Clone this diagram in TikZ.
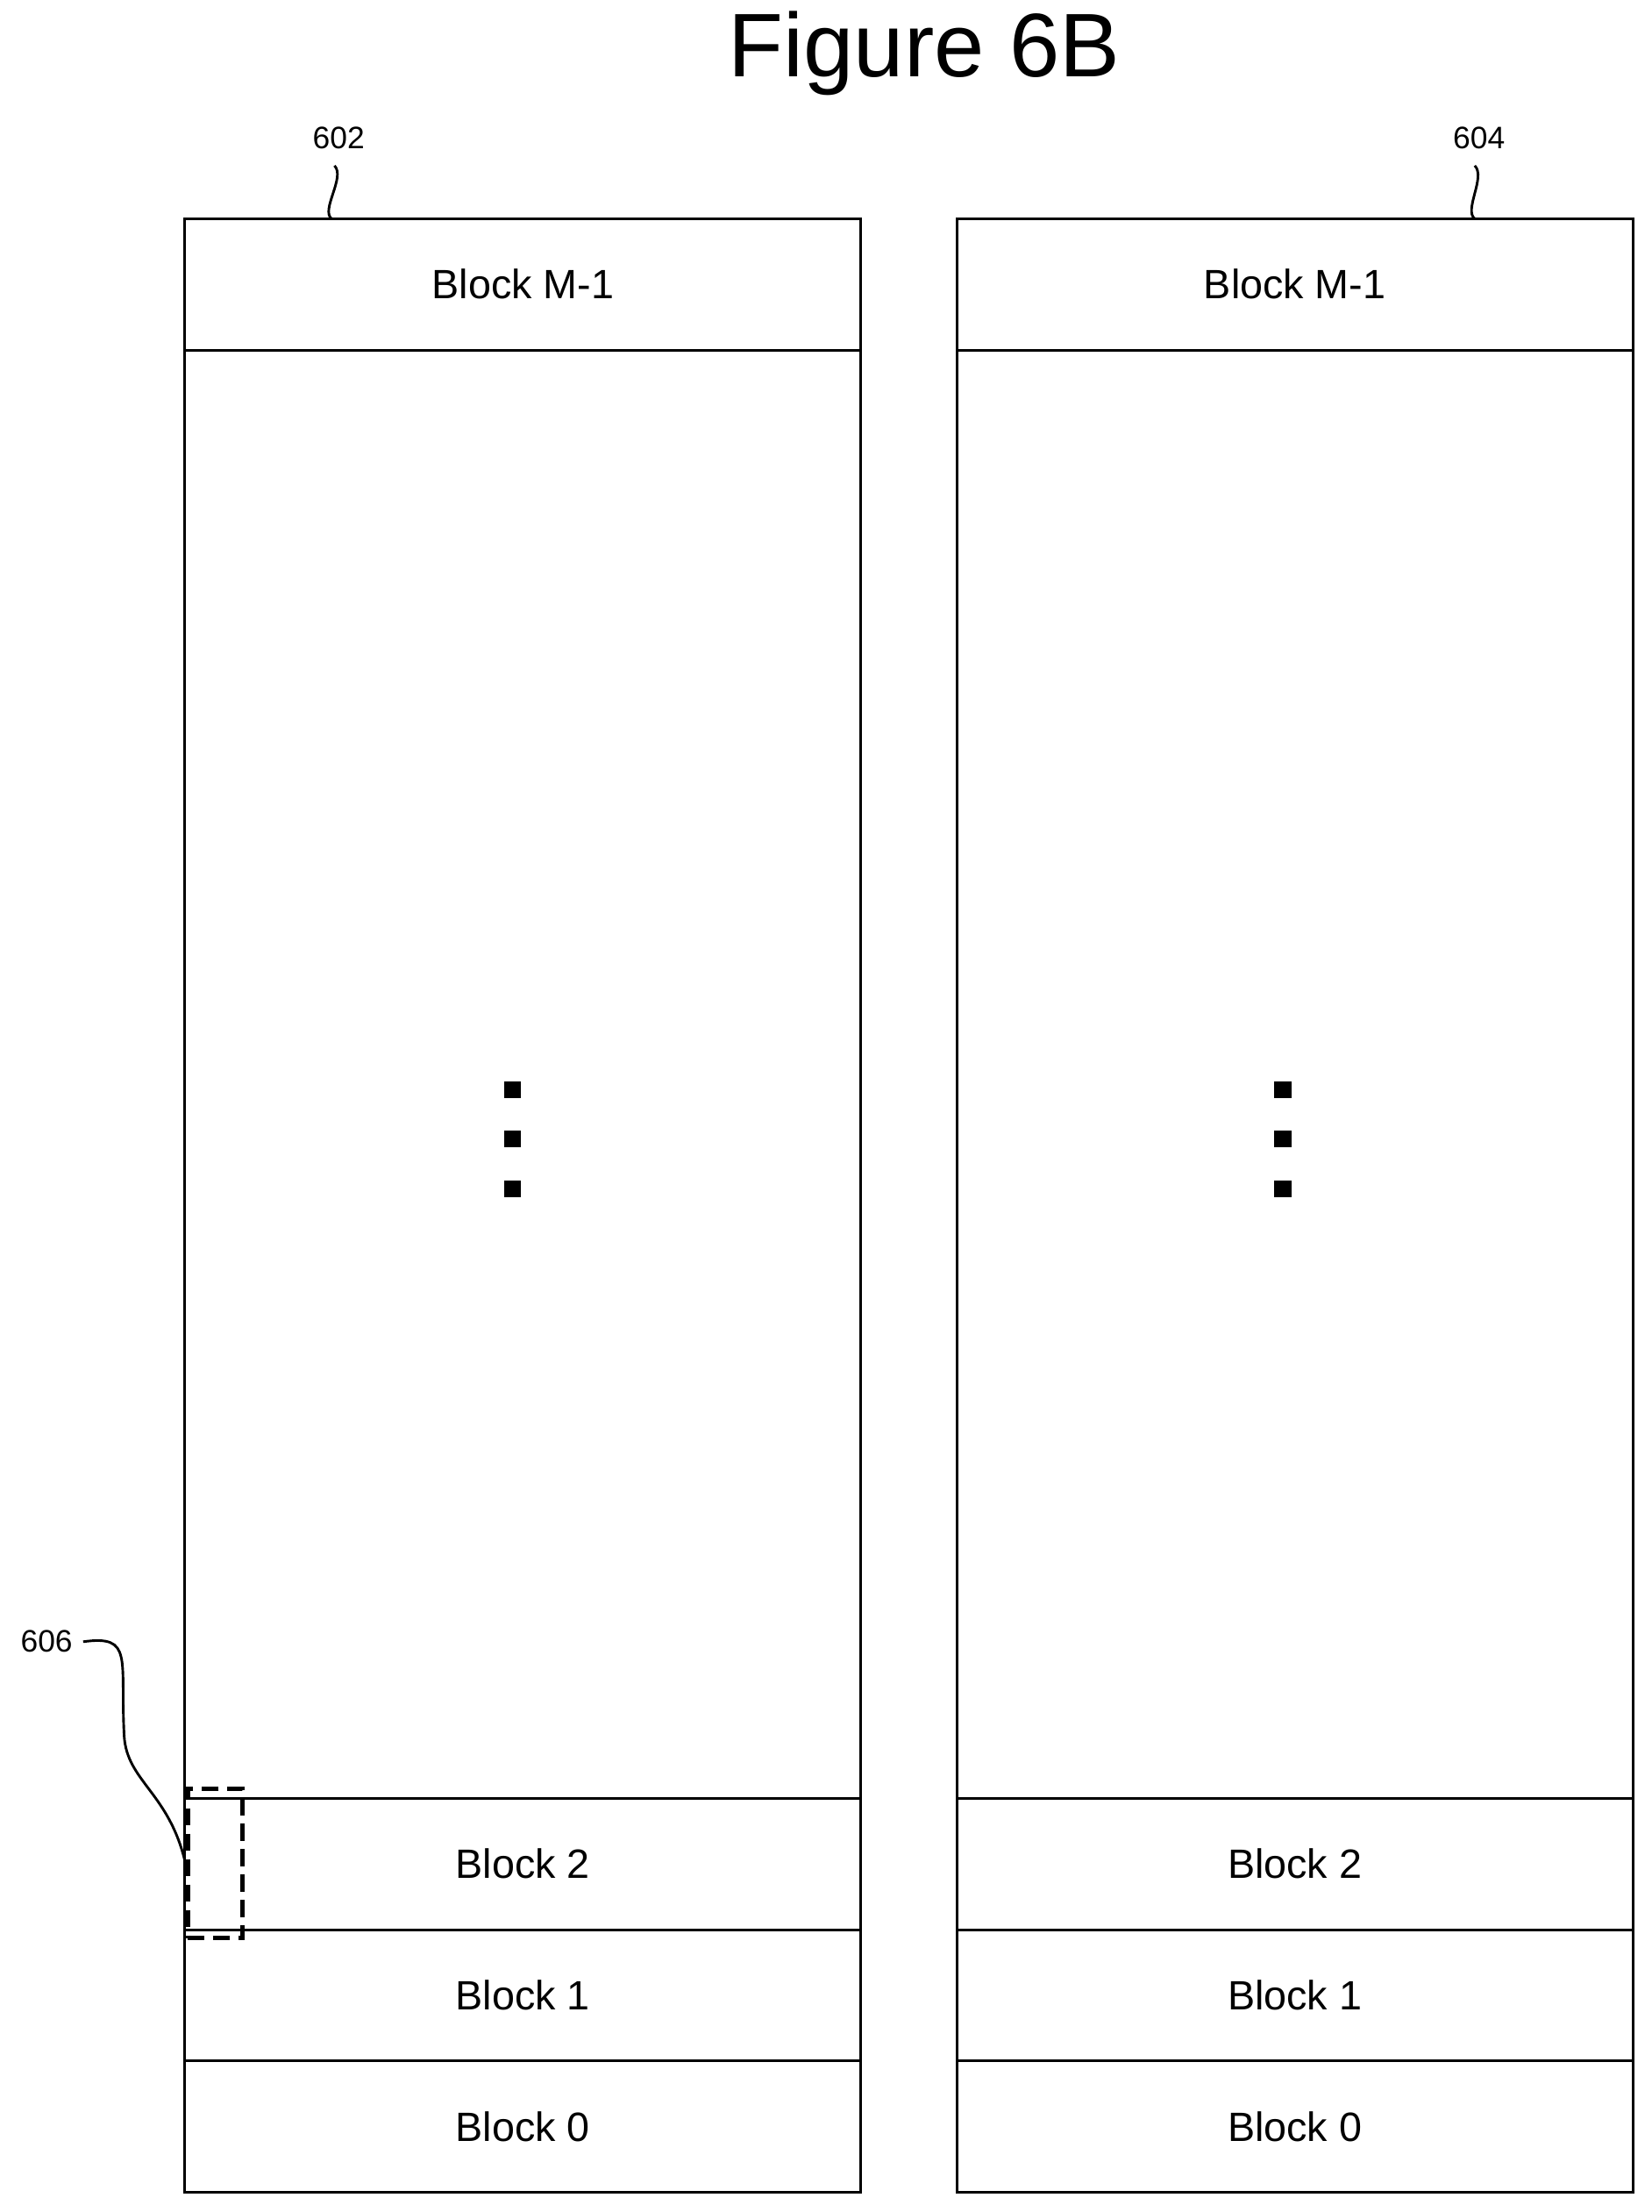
\documentclass[tikz,border=0pt]{standalone}
\usepackage{fontspec}
\setmainfont{Liberation Sans}
\begin{document}
\begin{tikzpicture}[x=0.5pt,y=-0.5pt,line width=0.9pt,
  blk/.style={draw,outer sep=0,minimum width=239.5pt,minimum height=46.5pt,inner sep=0,font=\fontsize{14.5}{17}\selectfont},
  tall/.style={draw,outer sep=0,minimum width=239.5pt,minimum height=513pt,inner sep=0},
  ref/.style={font=\fontsize{11}{13}\selectfont},
  dot/.style={fill,minimum size=6pt,inner sep=0}]
\useasboundingbox (0,0) rectangle (1170,1567);
\node[font=\fontsize{32}{38}\selectfont] (title) at (655,38) {Figure 6B};
\foreach \n/\x in {L/370.5,R/917.5}{
  \node[blk,anchor=north] (\n m) at (\x,155) {Block M-1};
  \node[tall,anchor=north] (\n mid) at (\n m.south) {};
  \node[blk,anchor=north] (\n b2) at (\n mid.south) {Block 2};
  \node[blk,anchor=north] (\n b1) at (\n b2.south) {Block 1};
  \node[blk,anchor=north] (\n b0) at (\n b1.south) {Block 0};
}
\foreach \x/\n in {363/L,909/R}{
  \node[dot] (\n d1) at (\x,772) {};
  \node[dot] (\n d2) at (\x,807) {};
  \node[dot] (\n d3) at (\x,842) {};
}
\node[ref] (l602) at (240,98) {602};
\node[ref] (l604) at (1048,98) {604};
\node[ref] (l606) at (33,1163) {606};
\coordinate (t602) at (235,155);
\coordinate (t604) at (1045,155);
\draw (l602.south) ++(-3,4) .. controls +(8,8) and +(-8,-6) .. (t602);
\draw (l604.south) ++(-3,4) .. controls +(8,8) and +(-8,-6) .. (t604);
\node[draw,dash pattern=on 6pt off 3pt,line width=1.6pt,minimum width=19.5pt,minimum height=53pt,inner sep=0] (d606) at (152.5,1320) {};
\draw (l606.east) .. controls (95,1158) and (85,1175) .. (88,1230) .. controls (90,1262) and (120,1270) .. (d606.west);
\end{tikzpicture}
\end{document}
